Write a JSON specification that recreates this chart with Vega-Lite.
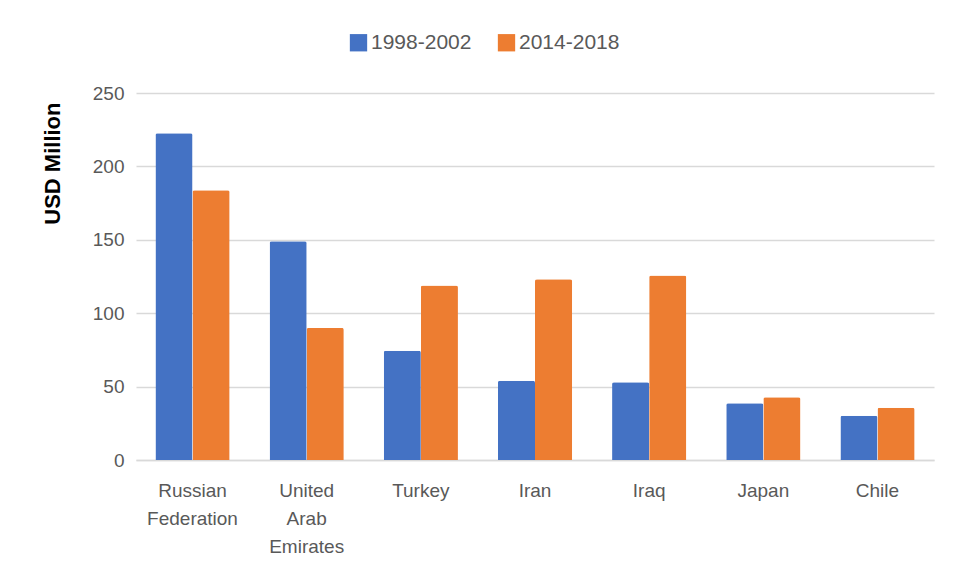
{
  "$schema": "https://vega.github.io/schema/vega-lite/v6.json",
  "width": 798,
  "height": 367,
  "autosize": {"type": "none"},
  "padding": {"left": 136, "top": 93, "right": 29, "bottom": 120},
  "background": "white",
  "data": {
    "values": [
      {"country": "Russian Federation", "period": "1998-2002", "value": 222.6},
      {"country": "Russian Federation", "period": "2014-2018", "value": 183.8},
      {"country": "United Arab Emirates", "period": "1998-2002", "value": 149.0},
      {"country": "United Arab Emirates", "period": "2014-2018", "value": 90.0},
      {"country": "Turkey", "period": "1998-2002", "value": 74.4},
      {"country": "Turkey", "period": "2014-2018", "value": 118.9},
      {"country": "Iran", "period": "1998-2002", "value": 54.0},
      {"country": "Iran", "period": "2014-2018", "value": 123.2},
      {"country": "Iraq", "period": "1998-2002", "value": 52.9},
      {"country": "Iraq", "period": "2014-2018", "value": 125.7},
      {"country": "Japan", "period": "1998-2002", "value": 38.6},
      {"country": "Japan", "period": "2014-2018", "value": 42.7},
      {"country": "Chile", "period": "1998-2002", "value": 30.2},
      {"country": "Chile", "period": "2014-2018", "value": 35.6}
    ]
  },
  "mark": {"type": "bar", "cornerRadiusEnd": 2},
  "encoding": {
    "x": {
      "field": "country",
      "type": "nominal",
      "sort": null,
      "scale": {"paddingInner": 0.35, "paddingOuter": 0.17},
      "axis": {
        "title": null,
        "labelAngle": 0,
        "labelExpr": "split(datum.label, ' ')",
        "labelLineHeight": 28,
        "labelFontSize": 19,
        "labelColor": "#595959",
        "labelFont": "Liberation Sans",
        "labelPadding": 21,
        "ticks": false,
        "domain": true,
        "domainColor": "#d9d9d9",
        "domainWidth": 1.5
      }
    },
    "xOffset": {"field": "period", "type": "nominal", "scale": {"paddingInner": 0, "paddingOuter": 0}},
    "y": {
      "field": "value",
      "type": "quantitative",
      "scale": {"domain": [0, 250], "nice": false},
      "axis": {
        "title": "USD Million",
        "titleFont": "Liberation Sans",
        "titleFontSize": 22,
        "titleFontWeight": "bold",
        "titleColor": "black",
        "titleAnchor": "end",
        "titleY": 9,
        "titlePadding": 28,
        "values": [0, 50, 100, 150, 200, 250],
        "labelFontSize": 19,
        "labelColor": "#595959",
        "labelFont": "Liberation Sans",
        "labelPadding": 12,
        "ticks": false,
        "domain": false,
        "grid": true,
        "gridColor": "#d9d9d9",
        "gridWidth": 1.5
      }
    },
    "color": {
      "field": "period",
      "type": "nominal",
      "scale": {"domain": ["1998-2002", "2014-2018"], "range": ["#4472C4", "#ED7D31"]},
      "legend": {
        "title": null,
        "orient": "none",
        "legendX": 212,
        "legendY": -61,
        "direction": "horizontal",
        "symbolType": "square",
        "symbolSize": 300,
        "symbolStrokeWidth": 0,
        "labelFontSize": 21,
        "labelColor": "#595959",
        "labelFont": "Liberation Sans",
        "labelOffset": 2,
        "columnPadding": 24
      }
    }
  },
  "config": {"view": {"stroke": null}}
}
